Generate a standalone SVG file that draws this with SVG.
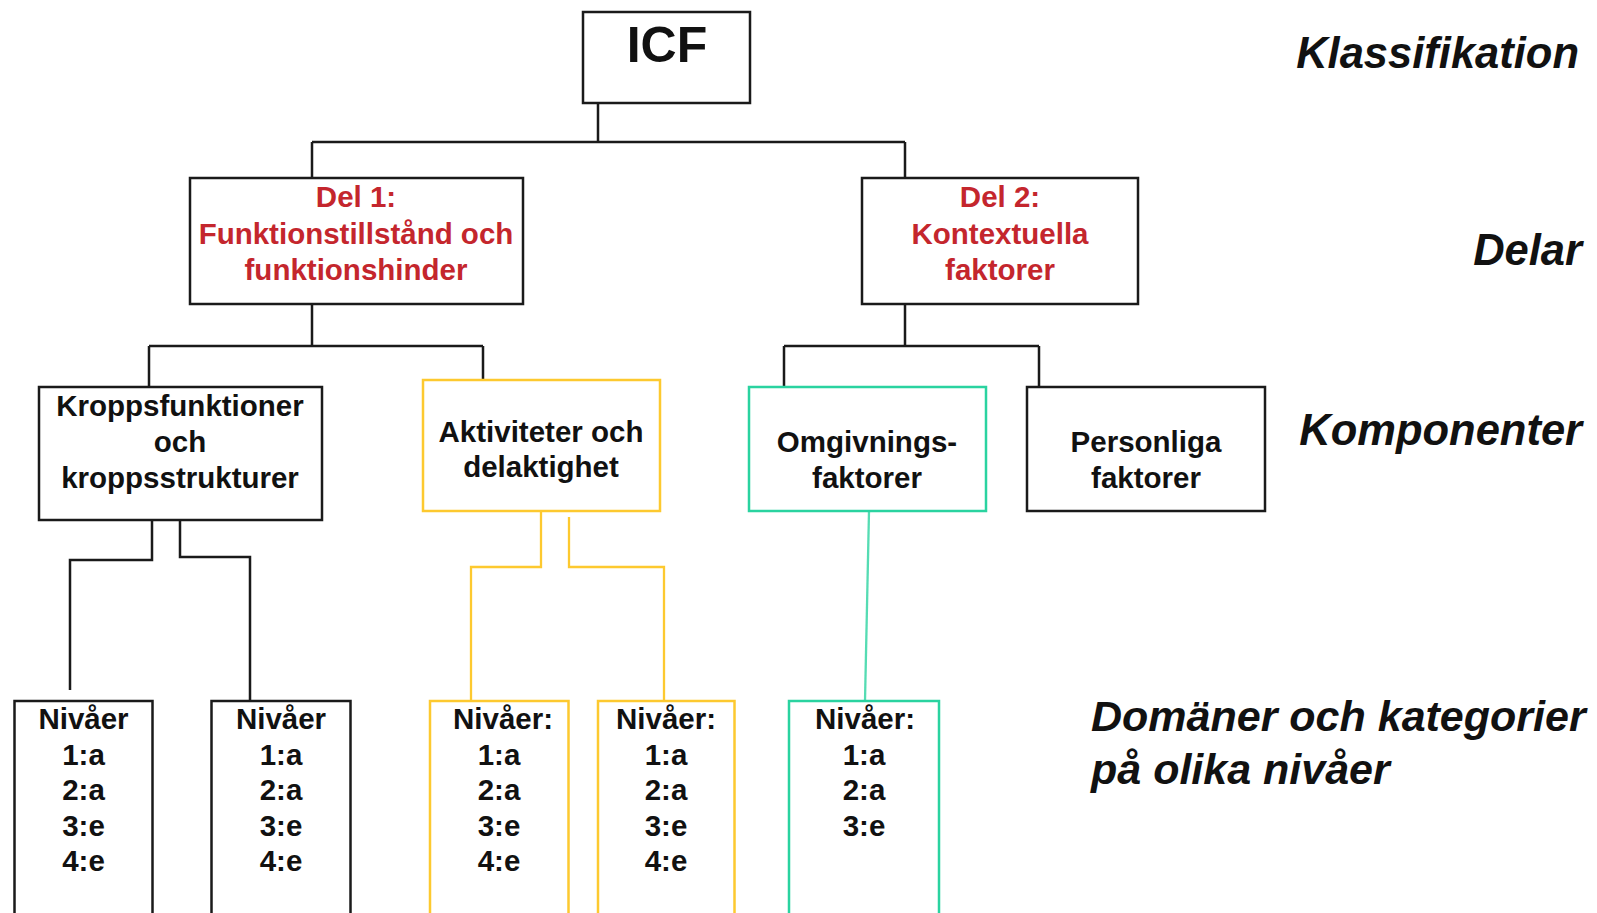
<svg xmlns="http://www.w3.org/2000/svg" width="1597" height="913" viewBox="0 0 1597 913">
<style>
.bk{fill:#fff;stroke:#1a1a1a;stroke-width:2.5}
.yl{fill:#fff;stroke:#fdc92f;stroke-width:2.5}
.tl{fill:#fff;stroke:#2ad3a0;stroke-width:2.5}
.t{font-family:"Liberation Sans",Arial,sans-serif;font-weight:bold;font-size:29.5px;fill:#111;text-anchor:middle}
.r{fill:#c4262d}
.lv{font-family:"Liberation Sans",Arial,sans-serif;font-weight:bold;font-style:italic;font-size:43.5px;fill:#111}
.c{fill:none;stroke:#1a1a1a;stroke-width:2.5}
.cy{fill:none;stroke:#fdc92f;stroke-width:2.3}
.ct{fill:none;stroke:#2ad3a0;stroke-width:2.3}
</style>
<rect width="1597" height="913" fill="#fff"/>
<g id="connectors">
<path class="c" d="M598,103V142M312,142H905M312,142V178M905,142V178"/>
<path class="c" d="M312,304V346M149,346H483M149,346V387M483,346V380"/>
<path class="c" d="M905,304V346M784,346H1039M784,346V387M1039,346V387"/>
<path class="c" d="M152,517V560H70V690"/>
<path class="c" d="M180,521V557H250V703"/>
<path class="cy" d="M541,511V567H471V701"/>
<path class="cy" d="M569,517V567H664V701"/>
<path class="ct" d="M869,511L865,701" stroke-opacity="0.8"/>
</g>
<g id="icf">
<rect class="bk" x="583" y="12" width="167" height="91"/>
<text class="t" x="667" y="62" style="font-size:50px">ICF</text>
</g>
<g id="del1">
<rect class="bk" x="190" y="178" width="333" height="126"/>
<text class="t r" x="356" y="207">Del 1:</text>
<text class="t r" x="356" y="244">Funktionstillstånd och</text>
<text class="t r" x="356" y="280">funktionshinder</text>
</g>
<g id="del2">
<rect class="bk" x="862" y="178" width="276" height="126"/>
<text class="t r" x="1000" y="207">Del 2:</text>
<text class="t r" x="1000" y="244">Kontextuella</text>
<text class="t r" x="1000" y="280">faktorer</text>
</g>
<g id="kropps">
<rect class="bk" x="39" y="387" width="283" height="133"/>
<text class="t" x="180" y="416">Kroppsfunktioner</text>
<text class="t" x="180" y="452">och</text>
<text class="t" x="180" y="488">kroppsstrukturer</text>
</g>
<g id="aktiviteter">
<rect class="yl" x="423" y="380" width="237" height="131"/>
<text class="t" x="541" y="442">Aktiviteter och</text>
<text class="t" x="541" y="477">delaktighet</text>
</g>
<g id="omgivning">
<rect class="tl" x="749" y="387" width="237" height="124"/>
<text class="t" x="867" y="452">Omgivnings-</text>
<text class="t" x="867" y="488">faktorer</text>
</g>
<g id="personliga">
<rect class="bk" x="1027" y="387" width="238" height="124"/>
<text class="t" x="1146" y="452">Personliga</text>
<text class="t" x="1146" y="488">faktorer</text>
</g>
<g id="niva1">
<rect class="bk" x="14.5" y="701" width="138" height="240"/>
<text class="t" x="83.5" y="729">Nivåer</text>
<text class="t" x="83.5" y="765">1:a</text>
<text class="t" x="83.5" y="800">2:a</text>
<text class="t" x="83.5" y="836">3:e</text>
<text class="t" x="83.5" y="871">4:e</text>
</g>
<g id="niva2">
<rect class="bk" x="211.5" y="701" width="139" height="240"/>
<text class="t" x="281" y="729">Nivåer</text>
<text class="t" x="281" y="765">1:a</text>
<text class="t" x="281" y="800">2:a</text>
<text class="t" x="281" y="836">3:e</text>
<text class="t" x="281" y="871">4:e</text>
</g>
<g id="niva3">
<rect class="yl" x="430" y="701" width="138.5" height="240"/>
<text class="t" x="503" y="729">Nivåer:</text>
<text class="t" x="499" y="765">1:a</text>
<text class="t" x="499" y="800">2:a</text>
<text class="t" x="499" y="836">3:e</text>
<text class="t" x="499" y="871">4:e</text>
</g>
<g id="niva4">
<rect class="yl" x="598" y="701" width="136.5" height="240"/>
<text class="t" x="666" y="729">Nivåer:</text>
<text class="t" x="666" y="765">1:a</text>
<text class="t" x="666" y="800">2:a</text>
<text class="t" x="666" y="836">3:e</text>
<text class="t" x="666" y="871">4:e</text>
</g>
<g id="niva5">
<rect class="tl" x="789" y="701" width="150" height="240"/>
<text class="t" x="865" y="729">Nivåer:</text>
<text class="t" x="864" y="765">1:a</text>
<text class="t" x="864" y="800">2:a</text>
<text class="t" x="864" y="836">3:e</text>
</g>
<g id="levels">
<text class="lv" x="1579" y="68" text-anchor="end">Klassifikation</text>
<text class="lv" x="1582" y="265" text-anchor="end">Delar</text>
<text class="lv" x="1582" y="445" text-anchor="end">Komponenter</text>
<text class="lv" x="1091" y="731" style="font-size:43px">Domäner och kategorier</text>
<text class="lv" x="1091" y="784" style="font-size:43px">på olika nivåer</text>
</g>
</svg>
